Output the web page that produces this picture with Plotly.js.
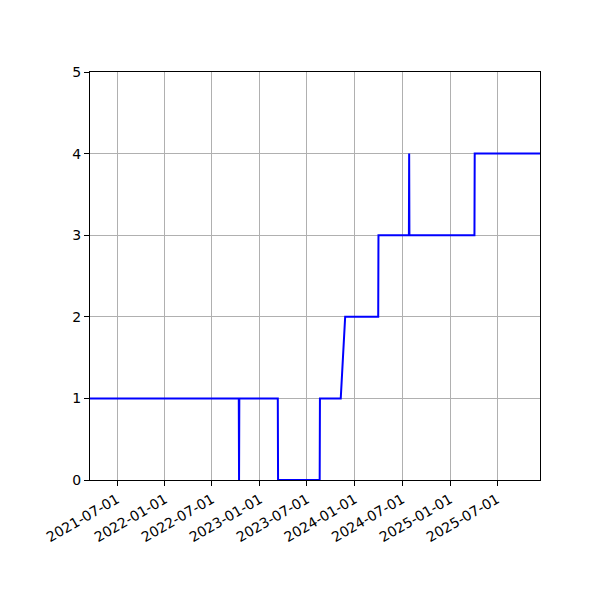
<!DOCTYPE html>
<html>
<head>
<meta charset="utf-8">
<script src="https://cdn.plot.ly/plotly-3.0.1.min.js"></script>
<style>body{margin:0;padding:0;background:#fff}</style>
</head>
<body>
<div id="chart" style="width:600px;height:600px"></div>
<script>
// step series
var dates = ['2021-03-19', '2022-10-12', '2022-10-13', '2022-10-14', '2023-03-11', '2023-03-12',
             '2023-08-19', '2023-08-20', '2023-11-08', '2023-11-25', '2024-03-31', '2024-04-01',
             '2024-07-27', '2024-07-28', '2024-07-29', '2025-04-05', '2025-04-06', '2025-12-13'];
var values = [1, 1, 0, 1, 1, 0,
              0, 1, 1, 2, 2, 3,
              3, 4, 3, 3, 4, 4];

var tickDates = ['2021-07-01', '2022-01-01', '2022-07-01', '2023-01-01', '2023-07-01',
                 '2024-01-01', '2024-07-01', '2025-01-01', '2025-07-01'];
var yTicks = [0, 1, 2, 3, 4, 5];

var trace = {
  x: dates,
  y: values,
  type: 'scatter',
  mode: 'lines',
  line: {color: '#0000ff', width: 2},
  hoverinfo: 'x+y'
};

var layout = {
  width: 600,
  height: 600,
  showlegend: false,
  paper_bgcolor: '#fff',
  plot_bgcolor: '#fff',
  font: {family: 'DejaVu Sans', size: 14, color: '#000'},
  margin: {l: 90, r: 60, t: 72, b: 120},
  xaxis: {
    type: 'date',
    range: ['2021-03-19', '2025-12-13'],
    tickvals: tickDates,
    ticktext: tickDates,
    tickangle: -30,
    ticks: 'outside',
    ticklen: 5,
    tickcolor: '#000',
    showgrid: true,
    gridcolor: '#b0b0b0',
    gridwidth: 1,
    showline: true,
    linecolor: '#000',
    linewidth: 1,
    mirror: true,
    zeroline: false
  },
  yaxis: {
    range: [0, 5],
    tickvals: yTicks,
    ticks: 'outside',
    ticklen: 5,
    tickcolor: '#000',
    showgrid: true,
    gridcolor: '#b0b0b0',
    gridwidth: 1,
    showline: true,
    linecolor: '#000',
    linewidth: 1,
    mirror: true,
    zeroline: false
  }
};

Plotly.newPlot('chart', [trace], layout, {displayModeBar: false});
</script>
</body>
</html>
